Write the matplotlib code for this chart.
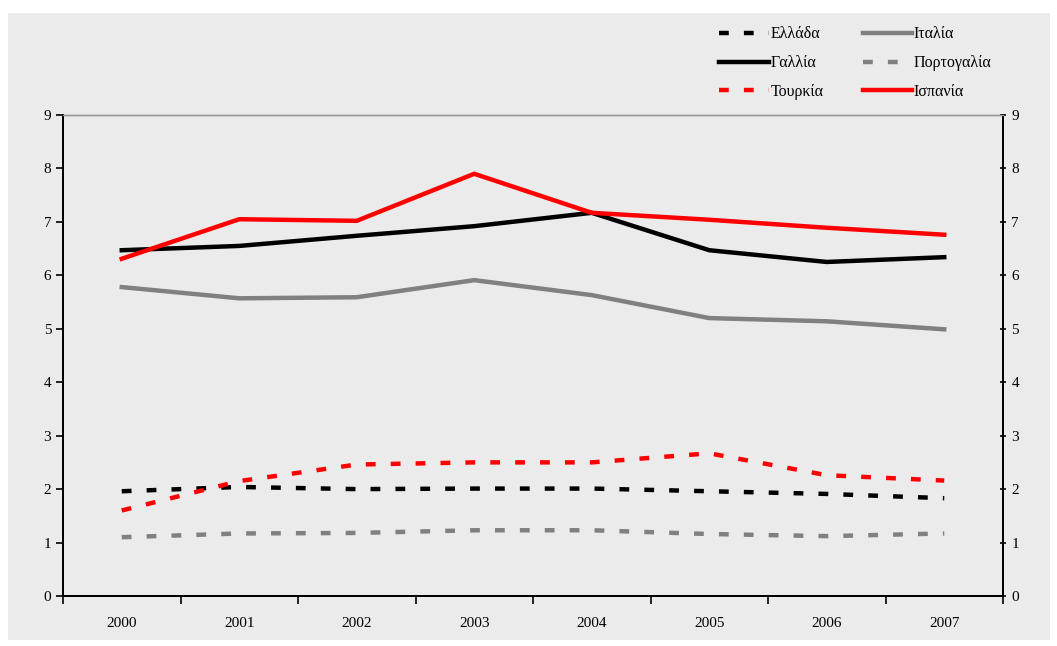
import matplotlib
matplotlib.use('Agg')
import matplotlib.pyplot as plt
from matplotlib.patches import Rectangle

years = ['2000', '2001', '2002', '2003', '2004', '2005', '2006', '2007']

greece = [1.96, 2.04, 2.00, 2.01, 2.01, 1.96, 1.91, 1.83]
france = [6.47, 6.55, 6.74, 6.92, 7.17, 6.47, 6.25, 6.34]
turkey = [1.60, 2.15, 2.46, 2.50, 2.50, 2.67, 2.26, 2.16]
italy = [5.78, 5.57, 5.59, 5.91, 5.63, 5.20, 5.14, 4.99]
portugal = [1.10, 1.17, 1.18, 1.23, 1.23, 1.16, 1.12, 1.17]
spain = [6.31, 7.05, 7.02, 7.90, 7.17, 7.04, 6.89, 6.76]

bg = '#ebebeb'
plt.rcParams['font.family'] = ['Liberation Serif', 'DejaVu Serif']

fig = plt.figure(figsize=(10.57, 6.46), dpi=100, facecolor='white')
# grey chart area on the white page
fig.add_artist(Rectangle((8 / 1057, 6 / 646), 1042 / 1057, 627 / 646,
                         transform=fig.transFigure, facecolor=bg,
                         edgecolor='none', zorder=-10))

ax = fig.add_axes([63 / 1057, 1 - 596 / 646, 940 / 1057, 481 / 646])
ax.set_facecolor(bg)

x = range(len(years))
lw = 3.2
dot = (0, (2.2, 3.4))

ax.plot(x, greece, color='black', lw=lw, ls=dot, dash_capstyle='butt', label='Ελλάδα')
ax.plot(x, france, color='black', lw=lw, label='Γαλλία')
ax.plot(x, turkey, color='#ff0000', lw=lw, ls=dot, dash_capstyle='butt', label='Τουρκία')
ax.plot(x, italy, color='#808080', lw=lw, label='Ιταλία')
ax.plot(x, portugal, color='#808080', lw=lw, ls=dot, dash_capstyle='butt', label='Πορτογαλία')
ax.plot(x, spain, color='#ff0000', lw=lw, label='Ισπανία')

ax.set_xlim(-0.5, len(years) - 0.5)
ax.set_ylim(0, 9)
ax.set_yticks(range(10))
ax.set_xticks(x)
ax.set_xticklabels(years, fontsize=11)
ax.set_xticks([i - 0.5 for i in range(len(years) + 1)], minor=True)
ax.tick_params(axis='x', which='major', length=0, pad=15)
ax.tick_params(axis='x', which='minor', length=6, width=1.2, direction='out')
ax.tick_params(axis='y', labelsize=11, length=5, width=1.2, direction='out')

ax2 = ax.twinx()
ax2.set_ylim(0, 9)
ax2.set_yticks(range(10))
ax2.tick_params(axis='y', labelsize=11, length=5, width=1.2, direction='inout')

for a in (ax, ax2):
    a.spines['top'].set_color('#999999')
    a.spines['top'].set_linewidth(1.0)
    for s in ('left', 'right', 'bottom'):
        a.spines[s].set_linewidth(1.4)
        a.spines[s].set_color('black')

leg = fig.legend(loc='upper left', bbox_to_anchor=(705 / 1057, 1 - 12 / 646),
                 ncol=2, frameon=False, fontsize=11.5, handlelength=3.1,
                 handletextpad=0.1, columnspacing=2.45, labelspacing=0.8)

fig.savefig('out.png', dpi=100, facecolor='white')
